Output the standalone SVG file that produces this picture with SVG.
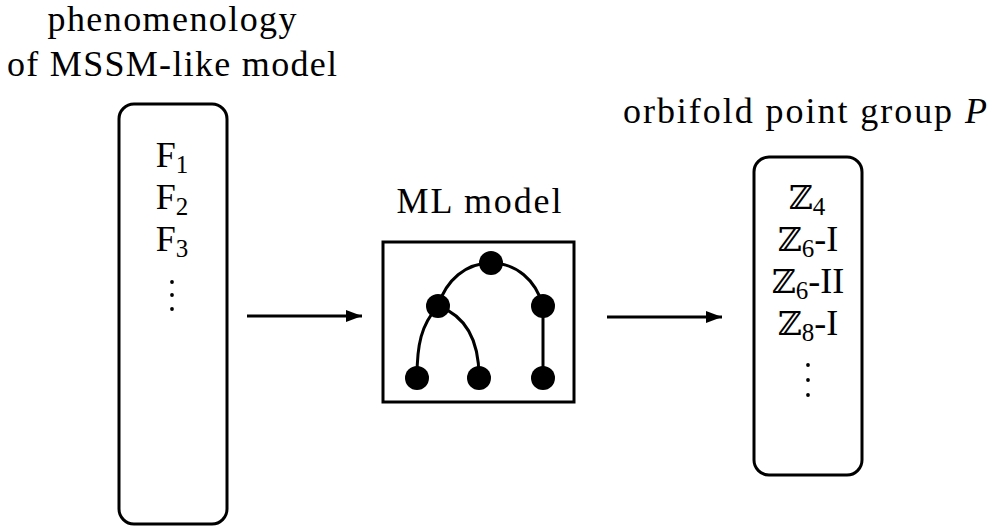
<svg xmlns="http://www.w3.org/2000/svg" width="995" height="526" viewBox="0 0 995 526">
<defs>
<style>
.t{font-family:"Liberation Serif","DejaVu Serif",serif;font-size:36px;fill:#000}
.z{font-family:"DejaVu Serif","Liberation Serif",serif;font-size:33px}
.s{font-size:25px}
.box{fill:none;stroke:#000;stroke-width:3}
.edge{fill:none;stroke:#000;stroke-width:3}
.conn{fill:none;stroke:#000;stroke-width:3}
.dot{fill:#000}
</style>
<marker id="ah" viewBox="0 0 16 12" refX="16" refY="6" markerWidth="16" markerHeight="12" markerUnits="userSpaceOnUse" orient="auto">
<path d="M0,0 L16,6 L0,12 Z" fill="#000"/>
</marker>
</defs>
<rect width="995" height="526" fill="#fff"/>

<g id="input">
<text class="t" x="172" y="31" text-anchor="middle" textLength="249" lengthAdjust="spacing">phenomenology</text>
<text class="t" x="172" y="76" text-anchor="middle" textLength="330" lengthAdjust="spacing">of MSSM-like model</text>
<rect class="box" x="119" y="104" width="108" height="420" rx="15" ry="15"/>
<text class="t" x="172" y="167" text-anchor="middle">F<tspan class="s" dy="6">1</tspan></text>
<text class="t" x="172" y="209" text-anchor="middle">F<tspan class="s" dy="6">2</tspan></text>
<text class="t" x="172" y="251" text-anchor="middle">F<tspan class="s" dy="6">3</tspan></text>
<circle class="dot" cx="172" cy="282" r="1.9"/>
<circle class="dot" cx="172" cy="295" r="1.9"/>
<circle class="dot" cx="172" cy="309" r="1.9"/>
</g>

<g id="ml-model">
<text class="t" x="479" y="213" text-anchor="middle" textLength="165" lengthAdjust="spacing">ML model</text>
<rect class="box" x="383" y="242" width="191" height="160"/>
<g class="edges">
<path class="edge" d="M491,263 C466,263 446,280 438,306"/>
<path class="edge" d="M491,263 C516,263 536,280 543,306"/>
<path class="edge" d="M438,306 C421,325 417,345 417,377"/>
<path class="edge" d="M438,306 C466,316 479,340 479,377"/>
<path class="edge" d="M543,306 L543,377"/>
</g>
<circle class="dot" cx="491" cy="263" r="12"/>
<circle class="dot" cx="438" cy="306" r="12"/>
<circle class="dot" cx="543" cy="306" r="12"/>
<circle class="dot" cx="417" cy="378" r="12"/>
<circle class="dot" cx="479" cy="378" r="12"/>
<circle class="dot" cx="543" cy="378" r="12"/>
</g>

<g id="output">
<text class="t" x="805" y="123" text-anchor="middle" textLength="364" lengthAdjust="spacing">orbifold point group <tspan font-style="italic">P</tspan></text>
<rect class="box" x="754" y="157" width="108" height="318" rx="15" ry="15"/>
<text class="t" x="807" y="209" text-anchor="middle"><tspan class="z">ℤ</tspan><tspan class="s" dy="6">4</tspan></text>
<text class="t" x="808" y="251" text-anchor="middle"><tspan class="z">ℤ</tspan><tspan class="s" dy="6">6</tspan><tspan dy="-6">-I</tspan></text>
<text class="t" x="808" y="293" text-anchor="middle"><tspan class="z">ℤ</tspan><tspan class="s" dy="6">6</tspan><tspan dy="-6">-II</tspan></text>
<text class="t" x="808" y="335" text-anchor="middle"><tspan class="z">ℤ</tspan><tspan class="s" dy="6">8</tspan><tspan dy="-6">-I</tspan></text>
<circle class="dot" cx="808" cy="365" r="1.9"/>
<circle class="dot" cx="808" cy="380" r="1.9"/>
<circle class="dot" cx="808" cy="395" r="1.9"/>
</g>

<g id="connectors">
<line class="conn" x1="247" y1="316" x2="362" y2="316" marker-end="url(#ah)"/>
<line class="conn" x1="607" y1="317" x2="722" y2="317" marker-end="url(#ah)"/>
</g>
</svg>
